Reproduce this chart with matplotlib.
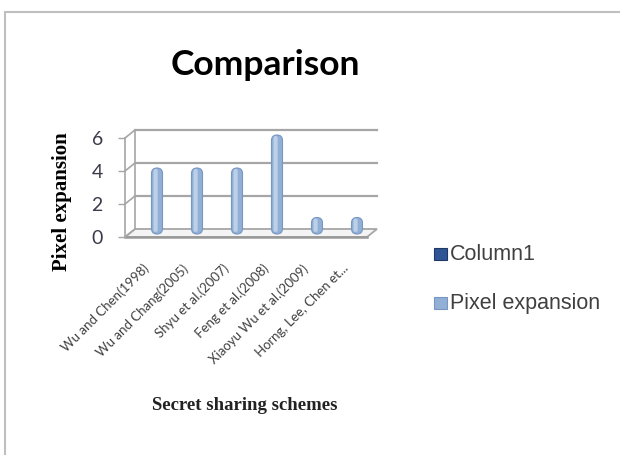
import matplotlib
matplotlib.use("Agg")
import matplotlib.pyplot as plt
from matplotlib.patches import FancyBboxPatch, Polygon, Rectangle

# ---- data -------------------------------------------------------------
schemes = [
    "Wu and Chen(1998)",
    "Wu and Chang(2005)",
    "Shyu et al.(2007)",
    "Feng et al.(2008)",
    "Xiaoyu Wu et al.(2009)",
    "Horng, Lee, Chen et...",
]
pixel_expansion = [4, 4, 4, 6, 1, 1]
y_ticks = [0, 2, 4, 6]
legend_labels = ["Column1", "Pixel expansion"]

SANS = "Lato"
LEG = "Liberation Sans"
SERIF = "Liberation Serif"

W, H, DPI = 620, 455, 100
fig = plt.figure(figsize=(W / DPI, H / DPI), dpi=DPI)
fig.patch.set_facecolor("white")

# chart-area border
fig.patches.append(Rectangle((5 / W, -0.1), 1.2, 1 - 12 / H + 0.1,
                             transform=fig.transFigure, fill=False,
                             edgecolor="#bfbfbf", lw=1.5, clip_on=False))

# front plane of the pseudo-3D plot
ax = fig.add_axes([125 / W, 1 - 237 / H, 242 / W, 99 / H])
xmin, xmax = -0.675, 5.375
ymin, ymax = 0, 6
ax.set_xlim(xmin, xmax)
ax.set_ylim(ymin, ymax)
for s in ax.spines.values():
    s.set_visible(False)
ax.patch.set_visible(False)

# pixel -> data conversion
px_x = (xmax - xmin) / 242.0
px_y = (ymax - ymin) / 99.0
back_dx, back_dy = 10 * px_x, 8 * px_y
mid_dx, mid_dy = 5 * px_x, 3 * px_y

grid_c = "#a6a6a6"
# floor
floor = Polygon([(xmin, 0), (xmax, 0), (xmax + back_dx, back_dy),
                 (xmin + back_dx, back_dy)], closed=True,
                facecolor="#f4f4f4", edgecolor=grid_c, lw=1.3,
                clip_on=False, zorder=1)
ax.add_patch(floor)
ax.plot([xmin, xmax], [0, 0], color="#999999", lw=1.8, clip_on=False, zorder=1)
# back wall gridlines
for t in y_ticks[1:]:
    ax.plot([xmin + back_dx, xmax + back_dx], [t + back_dy, t + back_dy],
            color=grid_c, lw=1.6, clip_on=False, zorder=1)
# back wall left edge
ax.plot([xmin + back_dx, xmin + back_dx], [back_dy, ymax + back_dy],
        color=grid_c, lw=1.2, clip_on=False, zorder=1)
# side wall connectors
for t in y_ticks:
    ax.plot([xmin, xmin + back_dx], [t, t + back_dy],
            color=grid_c, lw=1.2, clip_on=False, zorder=1)
# front vertical axis
ax.plot([xmin, xmin], [0, ymax], color=grid_c, lw=1.2, clip_on=False, zorder=2)

# cylinder-like columns
bar_w = 11 * px_x
aspect = px_y / px_x
for i, v in enumerate(pixel_expansion):
    x0 = i + mid_dx - bar_w / 2
    body = FancyBboxPatch((x0, mid_dy), bar_w, v,
                          boxstyle=f"round,pad=0,rounding_size={bar_w / 2}",
                          mutation_aspect=aspect, facecolor="#92afd6",
                          edgecolor="#7896c2", lw=0.8, zorder=3, clip_on=False)
    ax.add_patch(body)
    hw = bar_w * 0.38
    hl = FancyBboxPatch((x0 + bar_w * 0.18, mid_dy + 2 * px_y), hw, v - 3 * px_y,
                        boxstyle=f"round,pad=0,rounding_size={hw / 2}",
                        mutation_aspect=aspect, facecolor="#bcd0ea",
                        edgecolor="none", zorder=4, clip_on=False)
    ax.add_patch(hl)

# y ticks
ax.set_yticks(y_ticks)
ax.set_yticklabels([str(t) for t in y_ticks], fontfamily=SANS, fontsize=14,
                   color="#3a3a4a")
ax.tick_params(axis="y", length=5, width=1, color=grid_c, pad=11)

# x tick labels
ax.set_xticks([i - 0.25 for i in range(len(schemes))])
ax.set_xticklabels(schemes, rotation=45, ha="right", va="top",
                   rotation_mode="anchor", fontfamily=SANS, fontsize=9.5,
                   color="#404040")
ax.tick_params(axis="x", length=0, pad=18)

# titles
fig.text(265 / W, 1 - 75 / H, "Comparison", fontfamily=SANS, fontsize=25.5,
         fontweight="bold", ha="center", va="baseline", color="black")
fig.text(62 / W, 1 - 202 / H, "Pixel expansion", fontfamily=SERIF,
         fontsize=15, fontweight="bold", rotation=90, ha="center",
         va="center", color="black")
fig.text(245 / W, 1 - 410 / H, "Secret sharing schemes", fontfamily=SERIF,
         fontsize=13.5, fontweight="bold", ha="center", va="baseline",
         color="#222222")

# legend
leg_colors = ["#2f5597", "#92afd6"]
leg_edges = ["#1f3864", "#7896c2"]
for j, (lab, c, ec) in enumerate(zip(legend_labels, leg_colors, leg_edges)):
    yc = 1 - (254 + 49 * j) / H
    fig.patches.append(Rectangle((434 / W, yc - 6 / H), 13 / W, 12 / H,
                                 transform=fig.transFigure, facecolor=c,
                                 edgecolor=ec, lw=0.8))
    fig.text(450 / W, yc, lab, fontfamily=LEG, fontsize=15.5,
             ha="left", va="center", color="#404040")

fig.savefig("out.png", dpi=DPI, facecolor="white")
